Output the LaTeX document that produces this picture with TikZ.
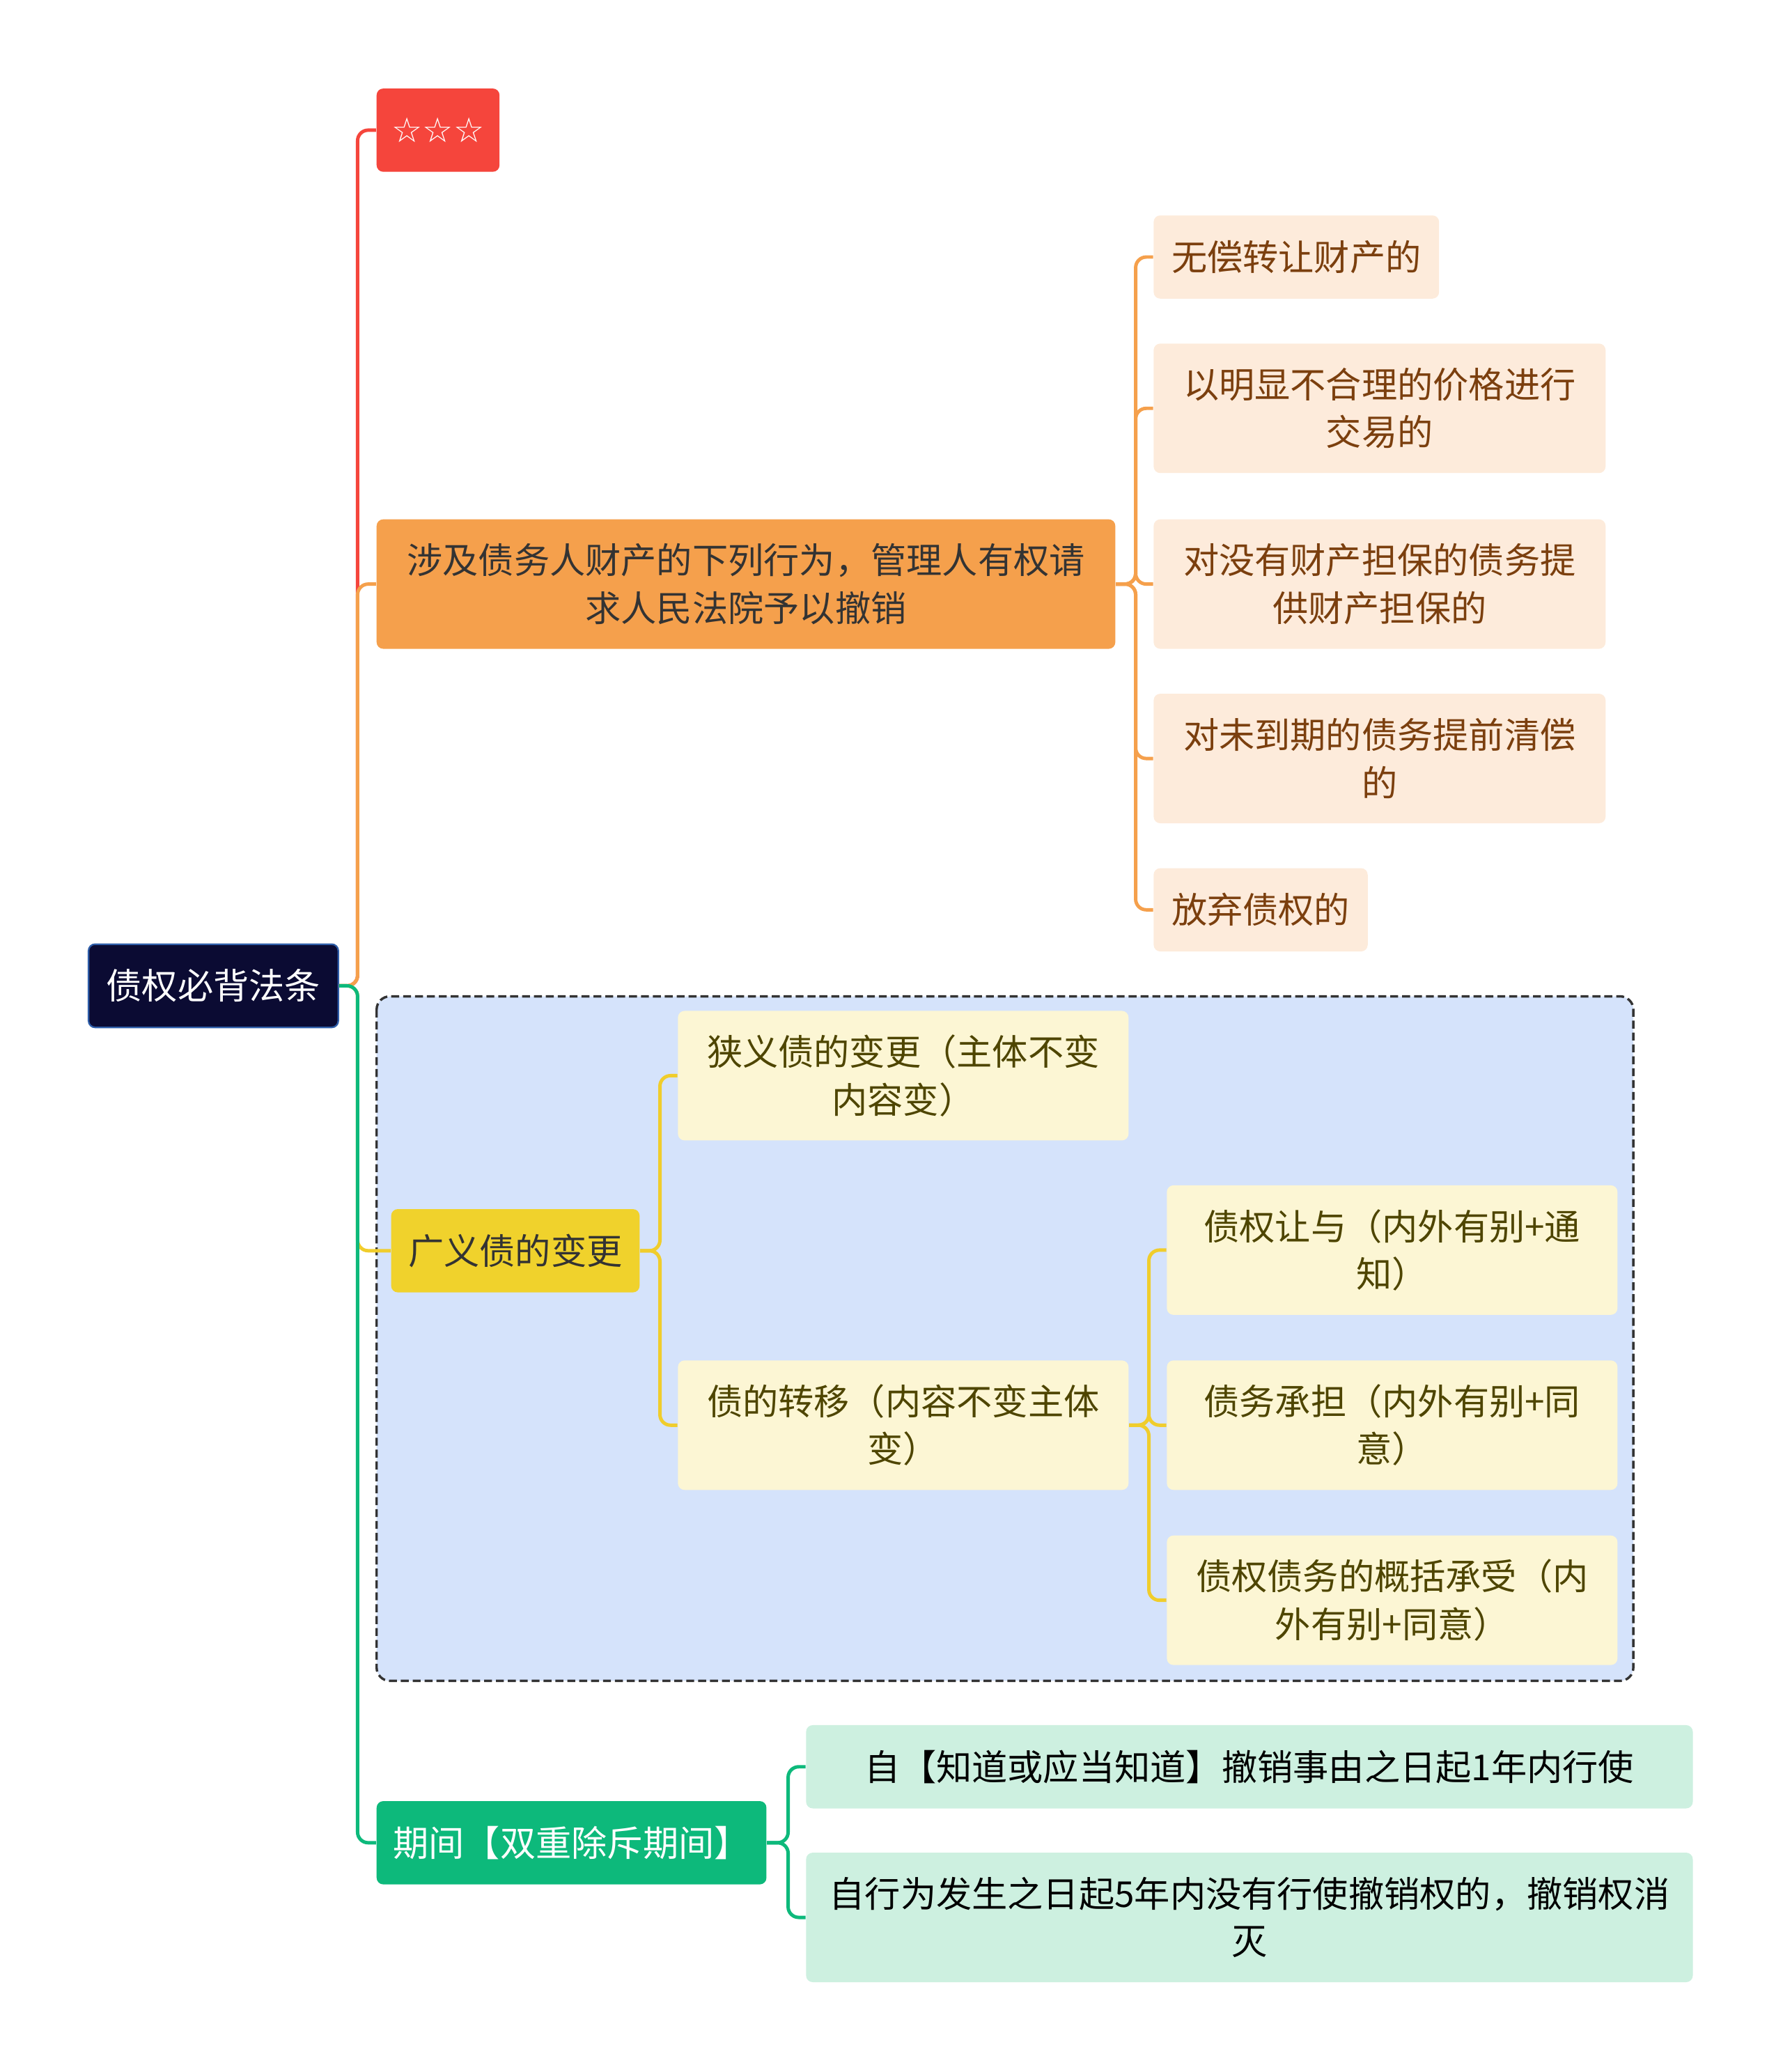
\documentclass[tikz,border=0pt]{standalone}
\usepackage{fontspec}
\usepackage{tikz}
\usetikzlibrary{positioning}
\newfontfamily\cjk{Noto Sans CJK SC}
\newfontfamily\symb{DejaVu Sans}

\definecolor{rootfill}{HTML}{0B0B33}
\definecolor{rootline}{HTML}{2E5DA8}
\definecolor{redfill}{HTML}{F5453C}
\definecolor{orangefill}{HTML}{F5A04C}
\definecolor{peach}{HTML}{FDEBDB}
\definecolor{brown}{HTML}{7B3F0E}
\definecolor{framefill}{HTML}{D5E3FB}
\definecolor{yellowfill}{HTML}{F0D22C}
\definecolor{yellowline}{HTML}{F0CD2C}
\definecolor{cream}{HTML}{FCF6D4}
\definecolor{olive}{HTML}{4E4500}
\definecolor{greenfill}{HTML}{0DB97B}
\definecolor{mint}{HTML}{CDF0E0}
\definecolor{darktext}{HTML}{333333}

\begin{document}
\begin{tikzpicture}[x=0.5pt, y=-0.5pt,
    box/.style = {rounded corners=2.5pt, inner sep=0pt, align=center,
                  font=\cjk\fontsize{13.5}{18}\selectfont},
    single/.style = {box, minimum height=31.5pt},
    double/.style = {box, minimum height=49pt},
    link/.style = {line width=1.3pt, rounded corners=4pt}
]
\useasboundingbox (0,0) rectangle (1349,1568);

% boundary round the second branch
\draw[fill=framefill, draw=darktext, line width=0.9pt, dash pattern=on 3pt off 1.5pt, rounded corners=5pt]
    (285,754) rectangle (1236,1272);

\node[single, fill=rootfill, draw=rootline, line width=0.6pt, text=white, minimum width=94.5pt] (root) at (161.5,746) {债权必背法条};

\node[single, fill=redfill, text=white, minimum width=46.5pt, font=\symb\fontsize{13}{16}\selectfont] (stars) at (331.5,98.5) {☆☆☆};

\node[double, fill=orangefill, text=darktext, minimum width=279.5pt] (revoke) at (564.5,442) {涉及债务人财产的下列行为，管理人有权请\\求人民法院予以撤销};
\node[single, fill=peach, text=brown, minimum width=108pt] (free) at (981,194.5) {无偿转让财产的};
\node[double, fill=peach, text=brown, minimum width=171pt] (price) at (1044,309) {以明显不合理的价格进行\\交易的};
\node[double, fill=peach, text=brown, minimum width=171pt] (guarantee) at (1044,442) {对没有财产担保的债务提\\供财产担保的};
\node[double, fill=peach, text=brown, minimum width=171pt] (early) at (1044,574) {对未到期的债务提前清偿\\的};
\node[single, fill=peach, text=brown, minimum width=81pt] (waive) at (954,688.5) {放弃债权的};

\node[single, fill=yellowfill, text=darktext, minimum width=94pt] (change) at (390,946.5) {广义债的变更};
\node[double, fill=cream, text=olive, minimum width=170.5pt] (narrow) at (683.5,814) {狭义债的变更（主体不变\\内容变）};
\node[double, fill=cream, text=olive, minimum width=170.5pt] (transfer) at (683.5,1078.5) {债的转移（内容不变主体\\变）};
\node[double, fill=cream, text=olive, minimum width=170.5pt] (assign) at (1053.5,946) {债权让与（内外有别+通\\知）};
\node[double, fill=cream, text=olive, minimum width=170.5pt] (assume) at (1053.5,1078.5) {债务承担（内外有别+同\\意）};
\node[double, fill=cream, text=olive, minimum width=170.5pt] (general) at (1053.5,1211) {债权债务的概括承受（内\\外有别+同意）};

\node[single, fill=greenfill, text=white, minimum width=147.5pt] (period) at (432.5,1394.5) {期间【双重除斥期间】};
\node[single, fill=mint, text=black, minimum width=335.5pt] (oneyear) at (945.5,1337) {自【知道或应当知道】撤销事由之日起1年内行使};
\node[double, fill=mint, text=black, minimum width=335.5pt] (fiveyear) at (945.5,1451) {自行为发生之日起5年内没有行使撤销权的，撤销权消\\灭};

\draw[link, redfill] (root.east) -- ++(14,0) |- (stars.west);
\draw[link, orangefill] (root.east) -- ++(14,0) |- (revoke.west);
\draw[link, yellowline] (root.east) -- ++(14,0) |- (change.west);
\draw[link, greenfill] (root.east) -- ++(14,0) |- (period.west);

\foreach \leaf in {free,price,guarantee,early,waive}
    \draw[link, orangefill] (revoke.east) -- ++(15,0) |- (\leaf.west);

\foreach \leaf in {narrow,transfer}
    \draw[link, yellowline] (change.east) -- ++(15,0) |- (\leaf.west);
\foreach \leaf in {assign,assume,general}
    \draw[link, yellowline] (transfer.east) -- ++(15,0) |- (\leaf.west);

\foreach \leaf in {oneyear,fiveyear}
    \draw[link, greenfill] (period.east) -- ++(16,0) |- (\leaf.west);
\end{tikzpicture}
\end{document}
